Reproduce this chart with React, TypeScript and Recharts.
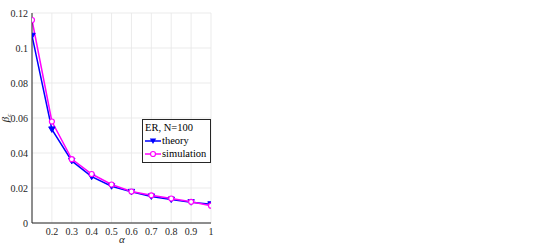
import { LineChart, Line, XAxis, YAxis, CartesianGrid, Label } from 'recharts';

const alphas = [0.1, 0.2, 0.3, 0.4, 0.5, 0.6, 0.7, 0.8, 0.9, 1];
const theory = [0.107, 0.0535, 0.0355, 0.0265, 0.021, 0.0178, 0.0152, 0.0134, 0.0119, 0.0107];
const simulation = [0.116, 0.058, 0.0365, 0.028, 0.022, 0.018, 0.0158, 0.014, 0.0121, 0.0099];
const xTicks = [0.2, 0.3, 0.4, 0.5, 0.6, 0.7, 0.8, 0.9, 1];
const yTicks = [0, 0.02, 0.04, 0.06, 0.08, 0.1, 0.12];

const data = alphas.map((a, i) => ({ a, theory: theory[i], simulation: simulation[i] }));

const FONT = 'Liberation Serif, Times New Roman, serif';
const AXIS = '#262626';
const BLUE = '#0000ff';
const MAGENTA = '#ff00ff';

const Tri = (props: any) => {
  const { cx, cy, index } = props;
  if (cx == null || cy == null) return <g key={index} />;
  return <path key={index} d={`M${cx - 3.2},${cy - 2.5} L${cx + 3.2},${cy - 2.5} L${cx},${cy + 3} Z`} fill={BLUE} stroke={BLUE} strokeWidth={1} />;
};

const XTick = (p: any) => (
  <text x={p.x} y={p.y + 4} textAnchor="middle" style={{ fontFamily: FONT, fontSize: 10 }} fill="#262626">{p.payload.value}</text>
);
const YTick = (p: any) => (
  <text x={p.x + 4} y={p.y + 3.5} textAnchor="end" style={{ fontFamily: FONT, fontSize: 10 }} fill="#262626">{p.payload.value}</text>
);

const LegendBox = () => (
  <div style={{ position: 'absolute', left: 142, top: 119, border: '1px solid #262626', background: '#fff', fontFamily: FONT, fontSize: 10.5, color: '#000', padding: '1px 3px 2px 2px', lineHeight: '13px', width: 62 }}>
    <div>ER, N=100</div>
    <div style={{ display: 'flex', alignItems: 'center' }}>
      <svg width={16} height={10}><line x1={0} y1={5} x2={16} y2={5} stroke={BLUE} strokeWidth={1.5} /><path d="M4.8,2.5 L11.2,2.5 L8,8 Z" fill={BLUE} /></svg>
      <span style={{ marginLeft: 1 }}>theory</span>
    </div>
    <div style={{ display: 'flex', alignItems: 'center' }}>
      <svg width={16} height={10}><line x1={0} y1={5} x2={16} y2={5} stroke={MAGENTA} strokeWidth={1.5} /><circle cx={8} cy={5} r={2.5} fill="#fff" stroke={MAGENTA} strokeWidth={1.2} /></svg>
      <span style={{ marginLeft: 1 }}>simulation</span>
    </div>
  </div>
);

export default function App() {
  return (
    <div style={{ position: 'absolute', left: 0, top: 0, width: 545, height: 245, background: '#fff', fontFamily: FONT }}>
      <LineChart width={545} height={245} data={data} margin={{ top: 13, right: 334, bottom: 2, left: 2 }}>
        <CartesianGrid stroke="#e6e6e6" strokeWidth={0.8} />
        <XAxis
          dataKey="a"
          type="number"
          domain={[0.1, 1]}
          ticks={xTicks}
          interval={0}
          allowDataOverflow
          height={20}
          tickLine={false}
          axisLine={{ stroke: AXIS }}
          tick={<XTick />}
        >
          <Label
            content={() => (
              <text x={122} y={243} textAnchor="middle" style={{ fontFamily: FONT, fontSize: 11, fontStyle: 'italic' }} fill="#262626">α</text>
            )}
          />
        </XAxis>
        <XAxis xAxisId="top" orientation="top" dataKey="a" type="number" domain={[0.1, 1]} height={0} tick={false} tickLine={false} axisLine={{ stroke: AXIS }} />
        <YAxis
          domain={[0, 0.12]}
          ticks={yTicks}
          interval={0}
          width={30}
          tickLine={false}
          axisLine={{ stroke: AXIS }}
          tick={<YTick />}
        >
          <Label
            content={() => (
              <g transform="translate(9,118) rotate(-90)">
                <text x={0} y={0} textAnchor="middle" style={{ fontFamily: FONT, fontSize: 11, fontStyle: 'italic' }} fill="#262626">
                  β<tspan style={{ fontSize: 7 }} dy={2}>c</tspan>
                </text>
              </g>
            )}
          />
        </YAxis>
        <YAxis yAxisId="right" orientation="right" domain={[0, 0.12]} width={0} tick={false} tickLine={false} axisLine={{ stroke: AXIS }} />
        <Line dataKey="theory" stroke={BLUE} strokeWidth={1.5} dot={<Tri />} isAnimationActive={false} />
        <Line dataKey="simulation" stroke={MAGENTA} strokeWidth={1.5} dot={{ r: 2.5, fill: '#fff', stroke: MAGENTA, strokeWidth: 1.2 }} isAnimationActive={false} />
      </LineChart>
      <LegendBox />
    </div>
  );
}
